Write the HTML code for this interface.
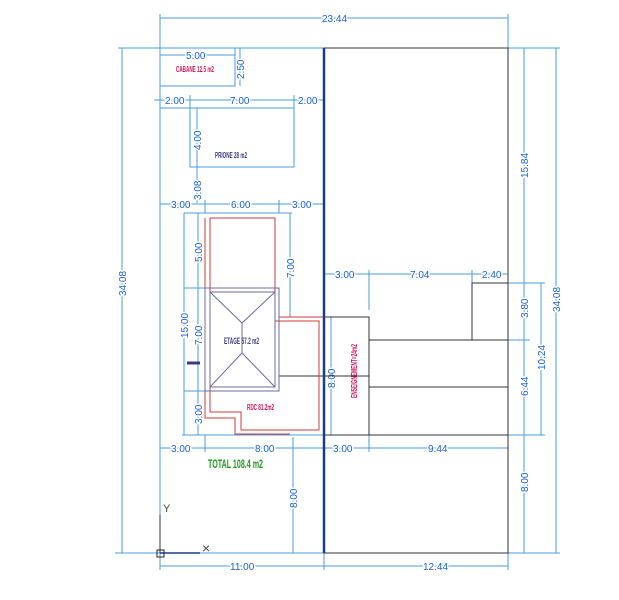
<!DOCTYPE html>
<html><head><meta charset="utf-8"><style>
html,body{margin:0;padding:0;background:#fff;width:619px;height:600px;overflow:hidden}
svg{display:block}
text{font-family:"Liberation Sans",sans-serif;}
.d{fill:#1560d0;font-size:10px;stroke:#fff;stroke-width:3px;paint-order:stroke;stroke-linejoin:round}
.l{stroke:#4a9be0;stroke-width:1;fill:none}
.k{stroke:#333;stroke-width:1;fill:none}
.r{stroke:#d23a3a;stroke-width:1;fill:none}
.p{stroke:#6b6b9a;stroke-width:1;fill:none}
</style></head><body>
<svg width="619" height="600" viewBox="0 0 619 600" xmlns="http://www.w3.org/2000/svg">
<g class="l">
<line x1="160" y1="14" x2="160" y2="570"/>
<line x1="508" y1="14" x2="508" y2="48"/>
<line x1="160" y1="18" x2="508" y2="18"/>
<line x1="118" y1="48" x2="560" y2="48"/>
<line x1="122" y1="48" x2="122" y2="553"/>
<line x1="115" y1="553" x2="560" y2="553"/>
<line x1="160" y1="566" x2="508" y2="566"/>
<line x1="324" y1="553" x2="324" y2="570"/>
<line x1="508" y1="553" x2="508" y2="570"/>
<line x1="524" y1="48" x2="524" y2="553"/>
<line x1="541" y1="283" x2="541" y2="435"/>
<line x1="556" y1="48" x2="556" y2="553"/>
<line x1="508" y1="283" x2="545" y2="283"/>
<line x1="508" y1="340" x2="530" y2="340"/>
<line x1="508" y1="435" x2="545" y2="435"/>
<line x1="160" y1="55" x2="235" y2="55"/>
<line x1="240" y1="48" x2="240" y2="86"/>
<line x1="154" y1="100" x2="325" y2="100"/>
<line x1="190" y1="95" x2="190" y2="108"/>
<line x1="294" y1="95" x2="294" y2="108"/>
<line x1="160" y1="108" x2="294" y2="108"/>
<line x1="197" y1="108" x2="197" y2="203"/>
<line x1="160" y1="204" x2="324" y2="204"/>
<line x1="205" y1="200" x2="205" y2="213"/>
<line x1="279" y1="200" x2="279" y2="213"/>
<line x1="184" y1="213" x2="292" y2="213"/>
<line x1="184" y1="213" x2="184" y2="435"/>
<line x1="198" y1="213" x2="198" y2="435"/>
<line x1="290" y1="213" x2="290" y2="317"/>
<line x1="279" y1="317" x2="300" y2="317"/>
<line x1="184" y1="288" x2="205" y2="288"/>
<line x1="184" y1="391" x2="205" y2="391"/>
<line x1="182" y1="435" x2="330" y2="435"/>
<line x1="160" y1="448" x2="508" y2="448"/>
<line x1="205" y1="435" x2="205" y2="452"/>
<line x1="369" y1="435" x2="369" y2="452"/>
<line x1="293" y1="437" x2="293" y2="553"/>
<line x1="324" y1="274" x2="508" y2="274"/>
<line x1="369" y1="270" x2="369" y2="310"/>
<line x1="472" y1="270" x2="472" y2="283"/>
<line x1="331" y1="317" x2="331" y2="435"/>
</g>
<g class="d">
<text x="322" y="22">23.44</text>
<text x="230" y="570">11.00</text>
<text x="423" y="570">12.44</text>
<text x="186" y="59">5.00</text>
<text x="165" y="104">2.00</text>
<text x="230" y="104">7.00</text>
<text x="298" y="104">2.00</text>
<text x="171" y="208">3.00</text>
<text x="231" y="208">6.00</text>
<text x="292" y="208">3.00</text>
<text x="171" y="452">3.00</text>
<text x="255" y="452">8.00</text>
<text x="333" y="452">3.00</text>
<text x="428" y="452">9.44</text>
<text x="335" y="278">3.00</text>
<text x="410" y="278">7.04</text>
<text x="482" y="278">2.40</text>
<text transform="translate(126,296) rotate(-90)">34.08</text>
<text transform="translate(560,312) rotate(-90)">34.08</text>
<text transform="translate(528,178) rotate(-90)">15.84</text>
<text transform="translate(528,318) rotate(-90)">3.80</text>
<text transform="translate(528,396) rotate(-90)">6.44</text>
<text transform="translate(528,492) rotate(-90)">8.00</text>
<text transform="translate(545,370) rotate(-90)">10.24</text>
<text transform="translate(244,79) rotate(-90)">2.50</text>
<text transform="translate(201,150) rotate(-90)">4.00</text>
<text transform="translate(201,200) rotate(-90)">3.08</text>
<text transform="translate(188,338) rotate(-90)">15.00</text>
<text transform="translate(202,262) rotate(-90)">5.00</text>
<text transform="translate(202,345) rotate(-90)">7.00</text>
<text transform="translate(202,424) rotate(-90)">3.00</text>
<text transform="translate(294,278) rotate(-90)">7.00</text>
<text transform="translate(335,388) rotate(-90)">8.00</text>
<text transform="translate(297,508) rotate(-90)">8.00</text>
</g>
<g class="k">
<rect x="324" y="48" width="184" height="505"/>
<rect x="324" y="317" width="45" height="118"/>
<rect x="369" y="340" width="139" height="95"/>
<line x1="369" y1="387" x2="508" y2="387"/>
<rect x="472" y="283" width="36" height="57"/>
<line x1="279" y1="376" x2="369" y2="376"/>
</g>
<rect x="160" y="48" width="75" height="38" class="l"/>
<rect x="190" y="108" width="104" height="59" class="l"/>
<line x1="324" y1="48" x2="324" y2="553" stroke="#1a3a8a" stroke-width="2.5"/>
<polyline class="r" points="210,218 275,218 275,321 319,321 319,430 241,430 241,412 210,412 210,218"/>
<polyline class="r" points="205,218 205,418 235,418 235,434 290,434"/>
<line class="r" x1="279" y1="317" x2="323" y2="317"/>
<rect x="205" y="288" width="74" height="103" class="p"/>
<rect x="210" y="292" width="65" height="95" class="p"/>
<polyline class="p" points="210,292 242,323 275,292"/>
<line class="p" x1="242" y1="323" x2="242" y2="353"/>
<polyline class="p" points="210,387 242,353 275,387"/>
<line x1="187" y1="363" x2="200" y2="363" stroke="#3a3a8a" stroke-width="3"/>
<text x="176" y="72" fill="#d0105a" font-size="8" font-weight="bold" textLength="38" lengthAdjust="spacingAndGlyphs">CABANE 12.5 m2</text>
<text x="215" y="158" fill="#3a3a7a" font-size="8" font-weight="bold" textLength="32" lengthAdjust="spacingAndGlyphs">PRIONE 28 m2</text>
<text x="224" y="344" fill="#3a3a7a" font-size="9" font-weight="bold" textLength="35" lengthAdjust="spacingAndGlyphs">ETAGE 57.2 m2</text>
<text x="247" y="410" fill="#d0105a" font-size="8" font-weight="bold" textLength="27" lengthAdjust="spacingAndGlyphs">RDC 81.2m2</text>
<text transform="translate(357,398) rotate(-90)" fill="#d0105a" font-size="8" font-weight="bold" textLength="54" lengthAdjust="spacingAndGlyphs">ENSEIGNEMENT=24m2</text>
<text x="208" y="468" fill="#1a9a1a" font-size="12" font-weight="bold" textLength="55" lengthAdjust="spacingAndGlyphs">TOTAL 108.4 m2</text>
<line x1="160" y1="553" x2="160" y2="515" stroke="#333"/>
<line x1="160" y1="553" x2="200" y2="553" stroke="#1a3a8a" stroke-width="1.5"/>
<rect x="157" y="550" width="7" height="7" fill="none" stroke="#222"/>
<text x="163" y="512" fill="#444" font-size="11">Y</text>
<text x="202" y="553" fill="#444" font-size="14">×</text>
</svg>
</body></html>
